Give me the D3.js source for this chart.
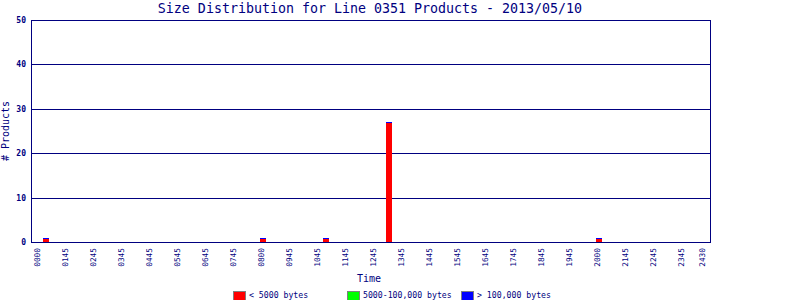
<!DOCTYPE html>
<html>
<head>
<meta charset="utf-8">
<script src="https://cdn.jsdelivr.net/npm/d3@7/dist/d3.min.js"></script>
<style>
  html, body { margin: 0; padding: 0; background: #fff; }
  svg { display: block; }
  text { font-family: "DejaVu Sans Mono", monospace; fill: #000080; }
</style>
</head>
<body>
<svg id="chart" width="800" height="300"></svg>
<script>
// ---- data ----
const titleText = "Size Distribution for Line 0351 Products - 2013/05/10";
const tickLabels = ["0000","0145","0245","0345","0445","0545","0645","0745","0800","0945","1045","1145","1245","1345","1445","1545","1645","1745","1845","1945","2000","2145","2245","2345","2430"];
const tickBins = [0,4,8,12,16,20,24,28,32,36,40,44,48,52,56,60,64,68,72,76,80,84,88,92,95];
const barBins = [1, 32, 41, 50, 80];
const smallVals = [1, 1, 1, 27, 1];      // < 5000 bytes
const mediumVals = [0, 0, 0, 0, 0];      // 5000-100,000 bytes
const largeVals = [0, 0, 0, 0, 0];       // > 100,000 bytes
const yTicks = [0, 10, 20, 30, 40, 50];
const seriesNames = ["< 5000 bytes", "5000-100,000 bytes", "> 100,000 bytes"];
const seriesColors = ["#ff0000", "#00ff00", "#0000ff"];

// ---- layout ----
const navy = "#000080";
const pL = 31, pR = 710, pT = 20, pB = 242;
const svg = d3.select("#chart");

const x = d3.scaleLinear().domain([-0.857, 96.143]).range([pL, pR]);
const y = d3.scaleLinear().domain([0, 50]).range([pB, pT]);

// gridlines
svg.append("g").selectAll("line").data(yTicks.filter(v => v > 0 && v < 50)).join("line")
  .attr("x1", pL).attr("x2", pR)
  .attr("y1", d => Math.round(y(d)) + 0.5).attr("y2", d => Math.round(y(d)) + 0.5)
  .attr("stroke", navy).attr("stroke-width", 1);

// bars
const step = x(1) - x(0);
const bw = Math.round(step) - 1;
const bars = svg.append("g");
barBins.forEach((b, i) => {
  const bx = Math.round(x(b)) - 1;
  const s = smallVals[i], m = mediumVals[i], l = largeVals[i];
  const y0 = Math.round(y(0)), y1 = Math.round(y(s)), y2 = Math.round(y(s + m)), y3 = Math.round(y(s + m + l));
  bars.append("rect").attr("x", bx).attr("width", bw).attr("y", y1 + 1).attr("height", Math.max(0, y0 - y1 - 1)).attr("fill", seriesColors[0]);
  if (m > 0) bars.append("rect").attr("x", bx).attr("width", bw).attr("y", y2).attr("height", y1 - y2).attr("fill", seriesColors[1]);
  bars.append("rect").attr("x", bx).attr("width", bw).attr("y", y3).attr("height", Math.max(1, y2 - y3)).attr("fill", seriesColors[2]);
});

// frame
svg.append("rect")
  .attr("x", pL + 0.5).attr("y", pT + 0.5)
  .attr("width", pR - pL).attr("height", pB - pT)
  .attr("fill", "none").attr("stroke", navy).attr("stroke-width", 1);

// y-axis labels
svg.append("g").selectAll("text").data(yTicks).join("text")
  .attr("x", 26).attr("y", d => y(d) + 3)
  .attr("text-anchor", "end")
  .style("font-size", "8px")
  .style("font-weight", "bold")
  .text(d => d);

// x-axis labels (rotated)
svg.append("g").selectAll("text").data(tickLabels).join("text")
  .attr("transform", (d, i) => `translate(${x(tickBins[i]) + 3},${pB + 6}) rotate(-90)`)
  .attr("text-anchor", "end")
  .style("font-size", "7.8px")
  .text(d => d);

// title
svg.append("text").attr("x", 370).attr("y", 13).attr("text-anchor", "middle")
  .style("font-size", "13.3px").text(titleText);

// axis titles
svg.append("text").attr("x", 369).attr("y", 282).attr("text-anchor", "middle")
  .style("font-size", "10px").text("Time");
svg.append("text").attr("transform", "translate(9,131) rotate(-90)").attr("text-anchor", "middle")
  .style("font-size", "10px").text("# Products");

// legend
const legX = [233, 347, 461];
const leg = svg.append("g");
seriesNames.forEach((n, i) => {
  leg.append("rect").attr("x", legX[i] + 0.5).attr("y", 291.5).attr("width", 12).attr("height", 9)
    .attr("fill", seriesColors[i]).attr("stroke", "#808080").attr("stroke-width", 1);
  leg.append("text").attr("x", legX[i] + 16).attr("y", 298).style("font-size", "8.2px").text(n);
});
</script>
</body>
</html>
